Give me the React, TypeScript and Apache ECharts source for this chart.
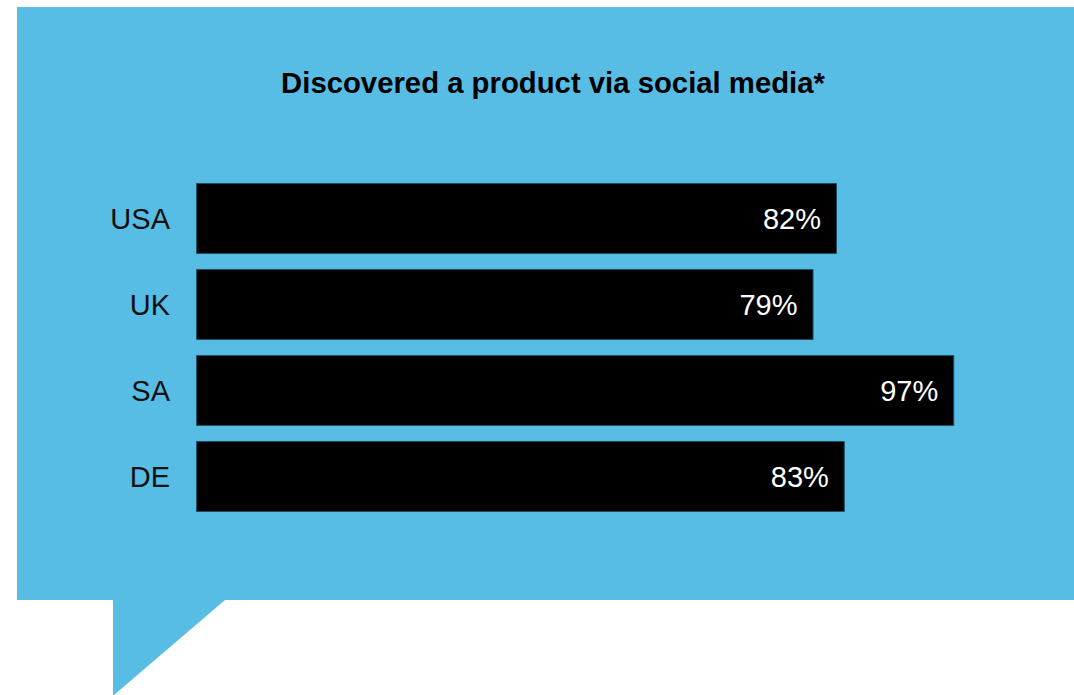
import React, { useEffect, useRef } from "react";
import * as echarts from "echarts";

const categories = ["USA", "UK", "SA", "DE"];
const values = [82, 79, 97, 83];
const title = "Discovered a product via social media*";

export default function App() {
  const ref = useRef<HTMLDivElement>(null);
  useEffect(() => {
    const chart = echarts.init(ref.current!, null, { renderer: "svg" });
    chart.setOption({
      animation: false,
      backgroundColor: "#ffffff",
      graphic: [
        {
          type: "polygon",
          z: -10,
          silent: true,
          shape: {
            points: [
              [17, 7],
              [1074, 7],
              [1074, 600],
              [225, 600],
              [114, 695],
              [113, 695],
              [113, 600],
              [17, 600],
            ],
          },
          style: { fill: "#57BDE5" },
        },
      ],
      title: {
        text: title,
        left: 548,
        top: 63,
        textAlign: "center",
        textStyle: {
          fontFamily: "Liberation Sans",
          fontWeight: "bold",
          fontSize: 29.3,
          color: "#000",
        },
      },
      grid: { left: 196, width: 781.7, top: 175.5, height: 344 },
      xAxis: {
        type: "value",
        min: 0,
        max: 100,
        show: false,
      },
      yAxis: {
        type: "category",
        data: categories,
        inverse: true,
        axisLine: { show: false },
        axisTick: { show: false },
        axisLabel: {
          margin: 26,
          fontFamily: "Liberation Sans",
          fontSize: 29,
          color: "#111",
        },
      },
      series: [
        {
          type: "bar",
          data: values,
          barCategoryGap: "17.4%",
          itemStyle: { color: "#000", borderColor: "#1d4f66", borderWidth: 1 },
          label: {
            show: true,
            position: "insideRight",
            distance: 16,
            formatter: "{c}%",
            fontFamily: "Liberation Sans",
            fontSize: 29,
            color: "#fff",
          },
        },
      ],
    });
    return () => chart.dispose();
  }, []);
  return (
    <div
      ref={ref}
      style={{ position: "fixed", left: 0, top: 0, width: 1074, height: 695 }}
    />
  );
}
